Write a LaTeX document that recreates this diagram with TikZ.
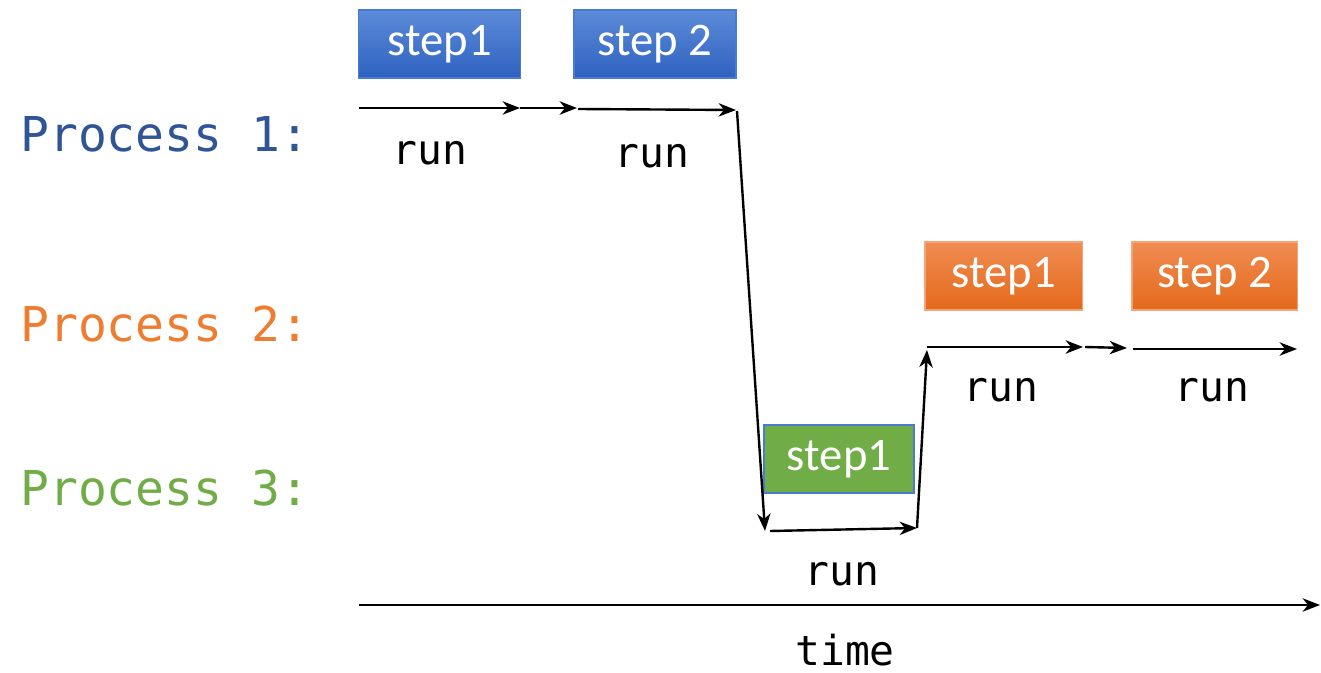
\documentclass[tikz,border=0pt]{standalone}
\usepackage{fontspec}
\setmainfont{Carlito}
\newfontfamily\monof{DejaVu Sans Mono}
\usetikzlibrary{arrows.meta}
\definecolor{pblue}{HTML}{2F5597}
\definecolor{porange}{HTML}{ED7D31}
\definecolor{pgreen}{HTML}{70AD47}
\definecolor{bluetop}{HTML}{5C8BD8}
\definecolor{bluebot}{HTML}{2E62C0}
\definecolor{bluebrd}{HTML}{4A7BD2}
\definecolor{orgtop}{HTML}{F08C52}
\definecolor{orgbot}{HTML}{E4691A}
\definecolor{orgbrd}{HTML}{F4A477}
\begin{document}
\begin{tikzpicture}[x=0.75pt,y=-0.75pt,
  stepbox/.style={inner sep=0pt, minimum height=51pt, text=white,
    font=\fontsize{35}{35}\selectfont},
  bluebox/.style={stepbox, draw=bluebrd, line width=1pt, top color=bluetop, bottom color=bluebot},
  orgbox/.style={stepbox, draw=orgbrd, line width=1pt, top color=orgtop, bottom color=orgbot},
  grnbox/.style={stepbox, draw=bluebrd, line width=1.2pt, fill=pgreen},
  proc/.style={inner sep=0pt, anchor=base west, font=\monof\fontsize{36}{36}\selectfont},
  runlbl/.style={inner sep=0pt, anchor=base, font=\monof\fontsize{31}{31}\selectfont},
  flow/.style={line width=1.8pt, -{Stealth[length=13pt, width=10pt, inset=4pt]}}
]
\useasboundingbox (0,0) rectangle (1321,673);

% process labels
\node[proc, text=pblue] (p1) at (20,152) {Process 1:};
\node[proc, text=porange] (p2) at (20,342) {Process 2:};
\node[proc, text=pgreen] (p3) at (20,505) {Process 3:};

% step boxes
\node[bluebox, minimum width=121.5pt] (b1) at (439.5,44) {step1};
\node[bluebox, minimum width=121.5pt] (b2) at (655,44) {step 2};
\node[orgbox, minimum width=118pt] (o1) at (1003.5,276) {step1};
\node[orgbox, minimum width=124pt] (o2) at (1214.5,276) {step 2};
\node[grnbox, minimum width=112.5pt] (g1) at (839,459) {step1};

% run labels
\node[runlbl] (r1) at (430,165) {run};
\node[runlbl] (r2) at (652,168) {run};
\node[runlbl] (r3) at (1001,402) {run};
\node[runlbl] (r4) at (1212,402) {run};
\node[runlbl] (r5) at (842,585) {run};
\node[runlbl] (tl) at (845,665) {time};

% arrow end points
\coordinate (a0) at (359,108);
\coordinate (a1) at (520,108);
\coordinate (a2) at (577,108);
\coordinate (a2b) at (578,109);
\coordinate (a3) at (736,110);
\coordinate (a3b) at (737,111);
\coordinate (d1) at (765,531);
\coordinate (c0) at (770,531);
\coordinate (c1) at (917,528);
\coordinate (u1) at (927,350);
\coordinate (e0) at (927,347);
\coordinate (e1) at (1083,347);
\coordinate (e1b) at (1085,347);
\coordinate (e2) at (1127,348);
\coordinate (e3) at (1133,349);
\coordinate (e4) at (1297,349);
\coordinate (t0) at (359,605);
\coordinate (t1) at (1320,605);

\draw[flow] (a0) -- (a1);
\draw[flow] (a1) -- (a2);
\draw[flow] (a2b) -- (a3);
\draw[flow] (a3b) -- (d1);
\draw[flow] (c0) -- (c1);
\draw[flow] (c1) -- (u1);
\draw[flow] (e0) -- (e1);
\draw[flow] (e1b) -- (e2);
\draw[flow] (e3) -- (e4);
\draw[flow] (t0) -- (t1);
\end{tikzpicture}
\end{document}
